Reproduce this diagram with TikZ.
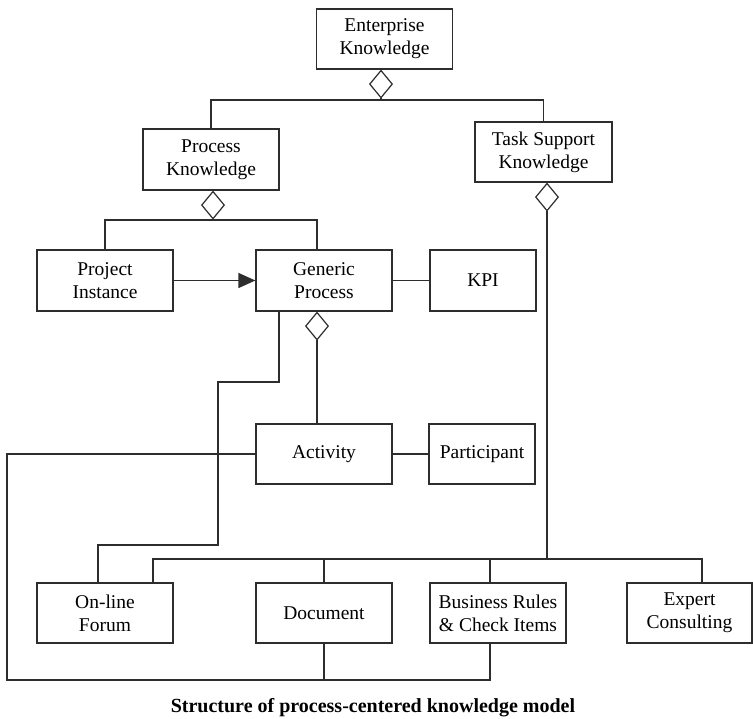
\documentclass[tikz,border=0pt]{standalone}
\usepackage{fontspec}
\setmainfont{Liberation Serif}
\usetikzlibrary{arrows.meta}
\definecolor{ink}{RGB}{45,45,45}
\tikzset{
  box/.style={draw=ink, line width=1.2pt, align=center, inner sep=0pt,
    minimum height=60pt, text=black, font=\fontsize{19.5}{23}\selectfont},
  link/.style={draw=ink, line width=1.2pt},
  agg/.style={link, {Diamond[open,length=29pt,width=24pt]}-},
  assoc/.style={link, -{Triangle[length=17pt,width=15pt]}},
}
\begin{document}
\begin{tikzpicture}[x=1pt,y=-1pt]
\useasboundingbox (0,0) rectangle (753,719);

% class boxes
\node[box, minimum width=136pt] (ent)   at (384.5,39)   {Enterprise\\Knowledge};
\node[box, minimum width=136pt, minimum height=61pt] (proc) at (211,159.5) {Process\\Knowledge};
\node[box, minimum width=137pt] (task)  at (543.5,152)  {Task Support\\Knowledge};
\node[box, minimum width=136pt, minimum height=61pt] (proj) at (105,280.5) {Project\\Instance};
\node[box, minimum width=136pt, minimum height=61pt] (gen)  at (324,280.5) {Generic\\Process};
\node[box, minimum width=106pt, minimum height=61pt] (kpi)  at (483,280.5) {KPI};
\node[box, minimum width=136pt] (act)   at (324,454)    {Activity};
\node[box, minimum width=106pt] (part)  at (482,454)    {Participant};
\node[box, minimum width=136pt] (forum) at (105,613)    {On-line\\Forum};
\node[box, minimum width=136pt] (doc)   at (324,613)    {Document};
\node[box, minimum width=136pt] (bus)   at (498,613)    {Business Rules\\\& Check Items};
\node[box, minimum width=125pt] (exp)   at (689.5,613)  {Expert\\Consulting};

% junction points
\coordinate (e1) at (381,100);
\coordinate (p1) at (213,220);
\coordinate (gx) at (317,311);
\coordinate (t1) at (547,559);
\coordinate (tl) at (153,559);
\coordinate (tr) at (702,559);
\coordinate (bx) at (490,680);
\coordinate (s1) at (279,382);
\coordinate (s2) at (218,545);
\coordinate (s3) at (98,545);
\coordinate (l1) at (7,680);

% enterprise knowledge aggregation
\draw[agg] (ent.south -| e1) -- (e1);
\draw[link] (proc.north) |- (e1) -| (task.north);

% process knowledge aggregation
\draw[agg] (proc.south -| p1) -- (p1);
\draw[link] (proj.north) |- (p1) -| (gen.north -| gx);

% task support aggregation
\draw[agg] (task.south -| t1) -- (t1);
\draw[link] (forum.north -| tl) |- (tr) -- (exp.north -| tr);
\draw[link] (doc.north) -- (doc.north |- tl);
\draw[link] (bus.north -| bx) -- (bx |- tl);

% generic process relations
\draw[assoc] (proj.east) -- (gen.west);
\draw[link] (gen.east) -- (kpi.west);
\draw[agg] (gen.south -| gx) -- (act.north -| gx);
\draw[link] (gen.south -| s1) -- (s1) -| (s2) -| (forum.north -| s3);

% activity relations
\draw[link] (act.east) -- (part.west);
\draw[link] (act.west) -| (l1) -| (bus.south -| bx);
\draw[link] (doc.south) -- (doc.south |- l1);

% caption
\node[font=\bfseries\fontsize{20}{23}\selectfont] (cap) at (373,708)
  {Structure of process-centered knowledge model};
\end{tikzpicture}
\end{document}
